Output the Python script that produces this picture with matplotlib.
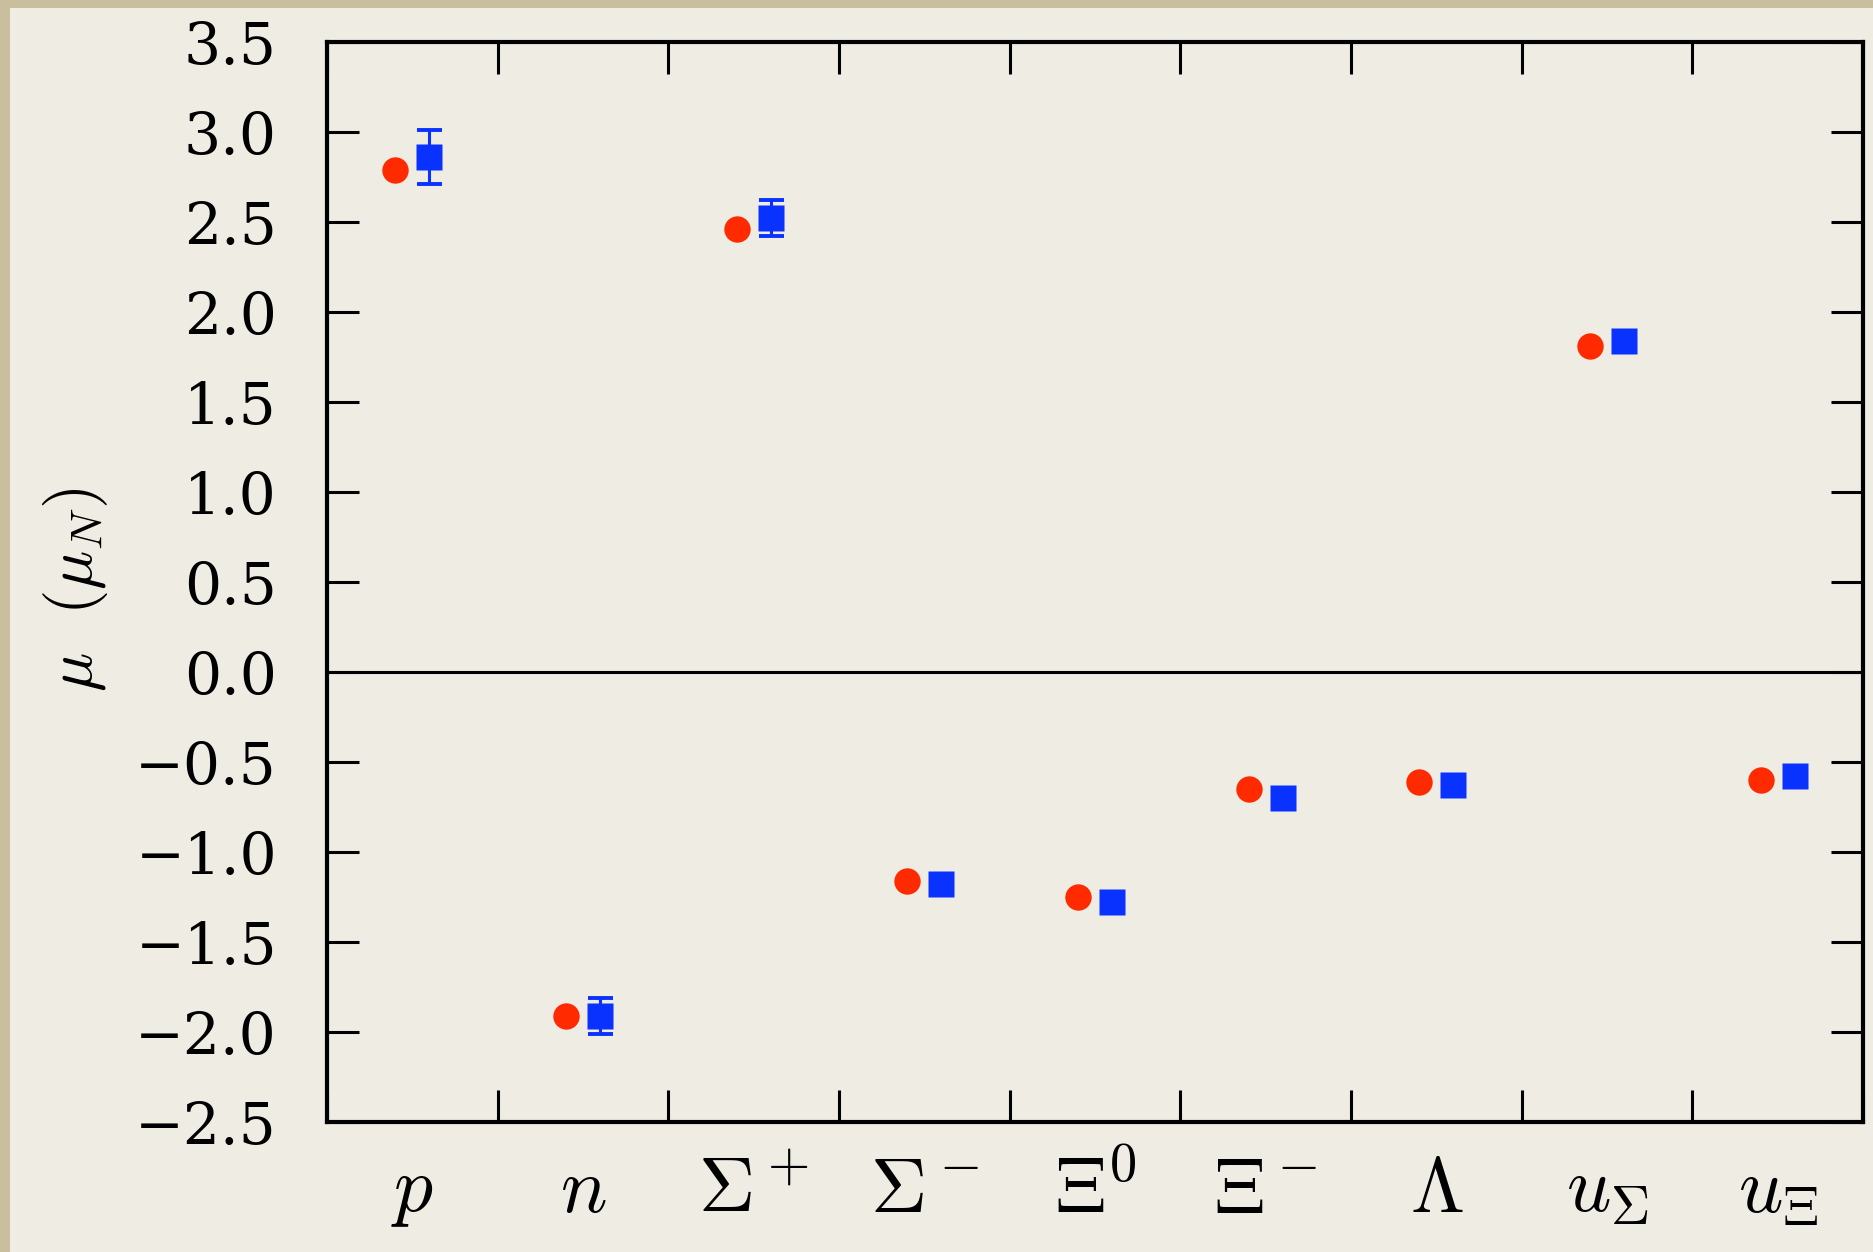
import numpy as np
import matplotlib as mpl
import matplotlib.pyplot as plt
from matplotlib.patches import Rectangle

mpl.rcParams['mathtext.fontset'] = 'cm'
mpl.rcParams['font.family'] = ['DejaVu Serif']

# baryon labels and magnetic moments (mu_N)
labels = [r'$p$', r'$n$', r'$\Sigma^+$', r'$\Sigma^-$', r'$\Xi^0$', r'$\Xi^-$',
          r'$\Lambda$', r'$u_\Sigma$', r'$u_\Xi$']
red_vals = [2.79, -1.91, 2.46, -1.16, -1.25, -0.65, -0.61, 1.81, -0.60]
blue_vals = [2.86, -1.91, 2.52, -1.18, -1.28, -0.70, -0.63, 1.84, -0.58]
blue_err = [0.15, 0.10, 0.10, np.nan, np.nan, np.nan, np.nan, np.nan, np.nan]

yticks = np.arange(-2.5, 3.51, 0.5)

W, H = 1873, 1252
fig = plt.figure(figsize=(W / 100, H / 100), dpi=100, facecolor='#c9bf9f')
fig.patches.append(Rectangle((10 / W, 0), 1, (H - 8) / H, transform=fig.transFigure,
                             facecolor='#efece4', edgecolor='none', zorder=-10))

ax = fig.add_axes([327 / W, 130 / H, 1536 / W, 1080 / H])
ax.patch.set_visible(False)

centers = np.arange(len(labels)) + 0.5
ax.errorbar(centers + 0.1, blue_vals, yerr=blue_err, fmt='none', ecolor='#0a32ff',
            elinewidth=2.2, capsize=9, capthick=2.8, zorder=3)
ax.plot(centers + 0.1, blue_vals, 's', color='#0a32ff', ms=18.5, mec='none', zorder=4)
ax.plot(centers - 0.1, red_vals, 'o', color='#ff2a00', ms=19, mec='none', zorder=4)

ax.axhline(0, color='black', lw=2.2, zorder=2)

ax.set_xlim(0, 9)
ax.set_ylim(-2.5, 3.5)
ax.set_yticks(yticks)
ax.set_yticklabels([('%.1f' % v).replace('-', '\u2212') for v in yticks])
ax.set_xticks(np.arange(0, 10))
ax.set_xticklabels([])
ax.tick_params(axis='both', direction='in', length=23, width=2.2, top=True, right=True)
ax.tick_params(axis='y', labelsize=42, pad=36)
for s in ax.spines.values():
    s.set_linewidth(3)

for c, lab in zip(centers, labels):
    ax.text(c, -0.083, lab, transform=ax.get_xaxis_transform(), ha='center',
            va='baseline', fontsize=56)

fig.text(76 / W, 1 - 590 / H, r'$\mu\ \ (\mu_N)$', rotation=90, ha='center',
         va='center', fontsize=47)

fig.savefig('out.png', dpi=100, facecolor=fig.get_facecolor())
